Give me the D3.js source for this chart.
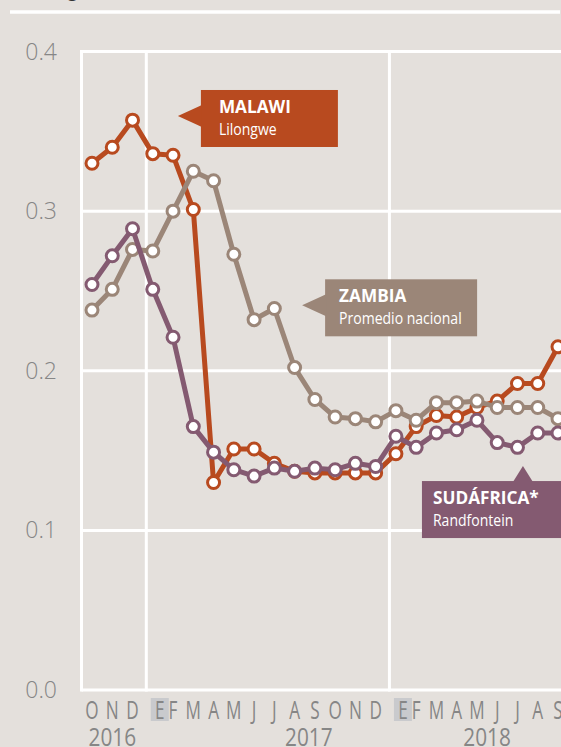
<!DOCTYPE html>
<html>
<head>
<meta charset="utf-8">
<script src="https://cdn.jsdelivr.net/npm/d3@7"></script>
<style>
    html, body { margin: 0; padding: 0; background: #e4e0dc; }
    svg { display: block; }
</style>
</head>
<body>
<div id="chart"></div>
<script>
// months from Oct 2016 to Sep 2018 (E = enero)
const months = ["O", "N", "D", "E", "F", "M", "A", "M", "J", "J", "A", "S",
                "O", "N", "D", "E", "F", "M", "A", "M", "J", "J", "A", "S"];
const years = ["2016", "2017", "2018"];
const yTicks = [0, 0.1, 0.2, 0.3, 0.4];

const malawi = [0.330, 0.340, 0.357, 0.336, 0.335, 0.301, 0.130, 0.151, 0.151, 0.142, 0.137, 0.136,
                0.136, 0.136, 0.136, 0.148, 0.165, 0.172, 0.171, 0.177, 0.181, 0.192, 0.192, 0.215];
const zambia = [0.238, 0.251, 0.276, 0.275, 0.300, 0.325, 0.319, 0.273, 0.232, 0.239, 0.202, 0.182,
                0.171, 0.170, 0.168, 0.175, 0.169, 0.180, 0.180, 0.181, 0.177, 0.177, 0.177, 0.170];
const sudafrica = [0.254, 0.272, 0.289, 0.251, 0.221, 0.165, 0.149, 0.138, 0.134, 0.139, 0.137, 0.139,
                   0.138, 0.142, 0.140, 0.159, 0.152, 0.161, 0.163, 0.169, 0.155, 0.152, 0.161, 0.161];

const seriesNames = ["MALAWI", "ZAMBIA", "SUDÁFRICA*"];
const seriesSubs = ["Lilongwe", "Promedio nacional", "Randfontein"];
const seriesColors = ["#b84a1f", "#9b8678", "#845a71"];

const W = 561, H = 747;
const bg = "#e4e0dc";
const axisGrey = "#868686";

const svg = d3.select("#chart").append("svg")
    .attr("width", W)
    .attr("height", H);

svg.append("rect").attr("width", W).attr("height", H).attr("fill", bg);

// condensed look: squeeze text horizontally around its anchor
function squeezed(sel, sx) {
    return sel.attr("transform", function () {
        const t = d3.select(this);
        return `translate(${t.attr("x")},${t.attr("y")}) scale(${sx},1)`;
    }).attr("x", 0).attr("y", 0);
}

// cropped unit label and top rule
svg.append("text")
    .attr("x", 10).attr("y", -3)
    .attr("font-family", "Open Sans, sans-serif")
    .attr("font-size", 18)
    .attr("fill", "#333")
    .text("(USD/kg)");

svg.append("line")
    .attr("x1", 10).attr("x2", 560)
    .attr("y1", 12).attr("y2", 12)
    .attr("stroke", "#fff").attr("stroke-width", 3.5);

const x = d3.scaleLinear().domain([0, months.length - 1]).range([92, 558]);
const y = d3.scaleLinear().domain([0, 0.4]).range([690, 51.5]);
const left = 81.5;

// horizontal gridlines
svg.append("g")
    .selectAll("line")
    .data(yTicks)
    .join("line")
    .attr("x1", left).attr("x2", W)
    .attr("y1", d => y(d)).attr("y2", d => y(d))
    .attr("stroke", "#fff").attr("stroke-width", 3);

// left border + year boundaries (just after each December)
const yearBreaks = months.map((m, i) => i).filter(i => months[i] === "E").map(i => i - 0.32);
svg.append("g")
    .selectAll("line")
    .data([null, ...yearBreaks])
    .join("line")
    .attr("x1", d => d === null ? left : x(d))
    .attr("x2", d => d === null ? left : x(d))
    .attr("y1", y(0.4) - 1.5).attr("y2", y(0) + 1.5)
    .attr("stroke", "#fff").attr("stroke-width", 3);

// y tick labels
svg.append("g")
    .selectAll("text")
    .data(yTicks)
    .join("text")
    .attr("x", 57)
    .attr("y", d => y(d))
    .attr("dy", "0.35em")
    .attr("text-anchor", "end")
    .attr("font-family", "Open Sans, sans-serif")
    .attr("font-weight", 300)
    .attr("font-size", 23)
    .attr("fill", axisGrey)
    .text(d => d.toFixed(1));

// month labels, January highlighted
const monthG = svg.append("g");
monthG.selectAll("rect")
    .data(months.map((m, i) => i).filter(i => months[i] === "E"))
    .join("rect")
    .attr("x", d => x(d) - 2)
    .attr("y", 698)
    .attr("width", 18)
    .attr("height", 23)
    .attr("fill", "#c9cacd");

monthG.selectAll("text")
    .data(months)
    .join("text")
    .attr("x", (d, i) => x(i) + (d === "E" ? 7 : 0))
    .attr("y", 719)
    .attr("text-anchor", "middle")
    .attr("font-family", "Open Sans, sans-serif")
    .attr("font-weight", 400)
    .attr("font-size", 26)
    .attr("fill", axisGrey)
    .text(d => d)
    .call(squeezed, 0.66);

// year labels: under N, mid-year (A-S) and mid-year (J-J)
const yearAt = [1, 10.7, 19.5];
svg.append("g")
    .selectAll("text")
    .data(years)
    .join("text")
    .attr("x", (d, i) => x(yearAt[i]))
    .attr("y", 746)
    .attr("text-anchor", "middle")
    .attr("font-family", "Open Sans, sans-serif")
    .attr("font-weight", 400)
    .attr("font-size", 26)
    .attr("fill", axisGrey)
    .text(d => d)
    .call(squeezed, 0.8);

// series
const line = d3.line()
    .x((d, i) => x(i))
    .y(d => y(d));

const seriesData = [malawi, zambia, sudafrica];
seriesData.forEach((vals, k) => {
    const g = svg.append("g");
    g.append("path")
        .datum(vals)
        .attr("fill", "none")
        .attr("stroke", seriesColors[k])
        .attr("stroke-width", 5)
        .attr("stroke-linejoin", "round")
        .attr("d", line);
    g.selectAll("circle")
        .data(vals)
        .join("circle")
        .attr("cx", (d, i) => x(i))
        .attr("cy", d => y(d))
        .attr("r", 6)
        .attr("fill", "#fff")
        .attr("stroke", seriesColors[k])
        .attr("stroke-width", 3);
});

// callout boxes
function callout(k, ax, ay, dir, pad) {
    const g = svg.append("g");
    const px = x(ax), py = y(ay);
    let bx, by, bw, bh = 57, tri;
    if (dir === "left") {
        bx = px + 23; by = py - 26;
        bw = k === 0 ? 137 : 152;
        tri = [[px, py], [bx + 1, py - 11], [bx + 1, py + 11]];
    } else {
        bx = px - 101; by = py + 15; bw = 160;
        tri = [[px, py], [px - 10, by + 1], [px + 10, by + 1]];
    }
    g.append("rect")
        .attr("x", bx).attr("y", by)
        .attr("width", bw).attr("height", bh)
        .attr("fill", seriesColors[k]);
    g.append("path")
        .attr("d", d3.line()(tri) + "Z")
        .attr("fill", seriesColors[k]);
    g.append("text")
        .attr("x", bx + pad).attr("y", by + 23)
        .attr("font-family", "Open Sans, sans-serif")
        .attr("font-weight", 700)
        .attr("font-size", 18.5)
        .attr("fill", "#fff")
        .text(seriesNames[k])
        .call(squeezed, 0.93);
    g.append("text")
        .attr("x", bx + pad).attr("y", by + 45)
        .attr("font-family", "Open Sans, sans-serif")
        .attr("font-size", 16.5)
        .attr("fill", "#fff")
        .text(seriesSubs[k])
        .call(squeezed, 0.85);
}

callout(0, 4.24, 0.3596, "left", 18);
callout(1, 10.37, 0.241, "left", 14);
callout(2, 21.27, 0.1403, "up", 11);
</script>
</body>
</html>
